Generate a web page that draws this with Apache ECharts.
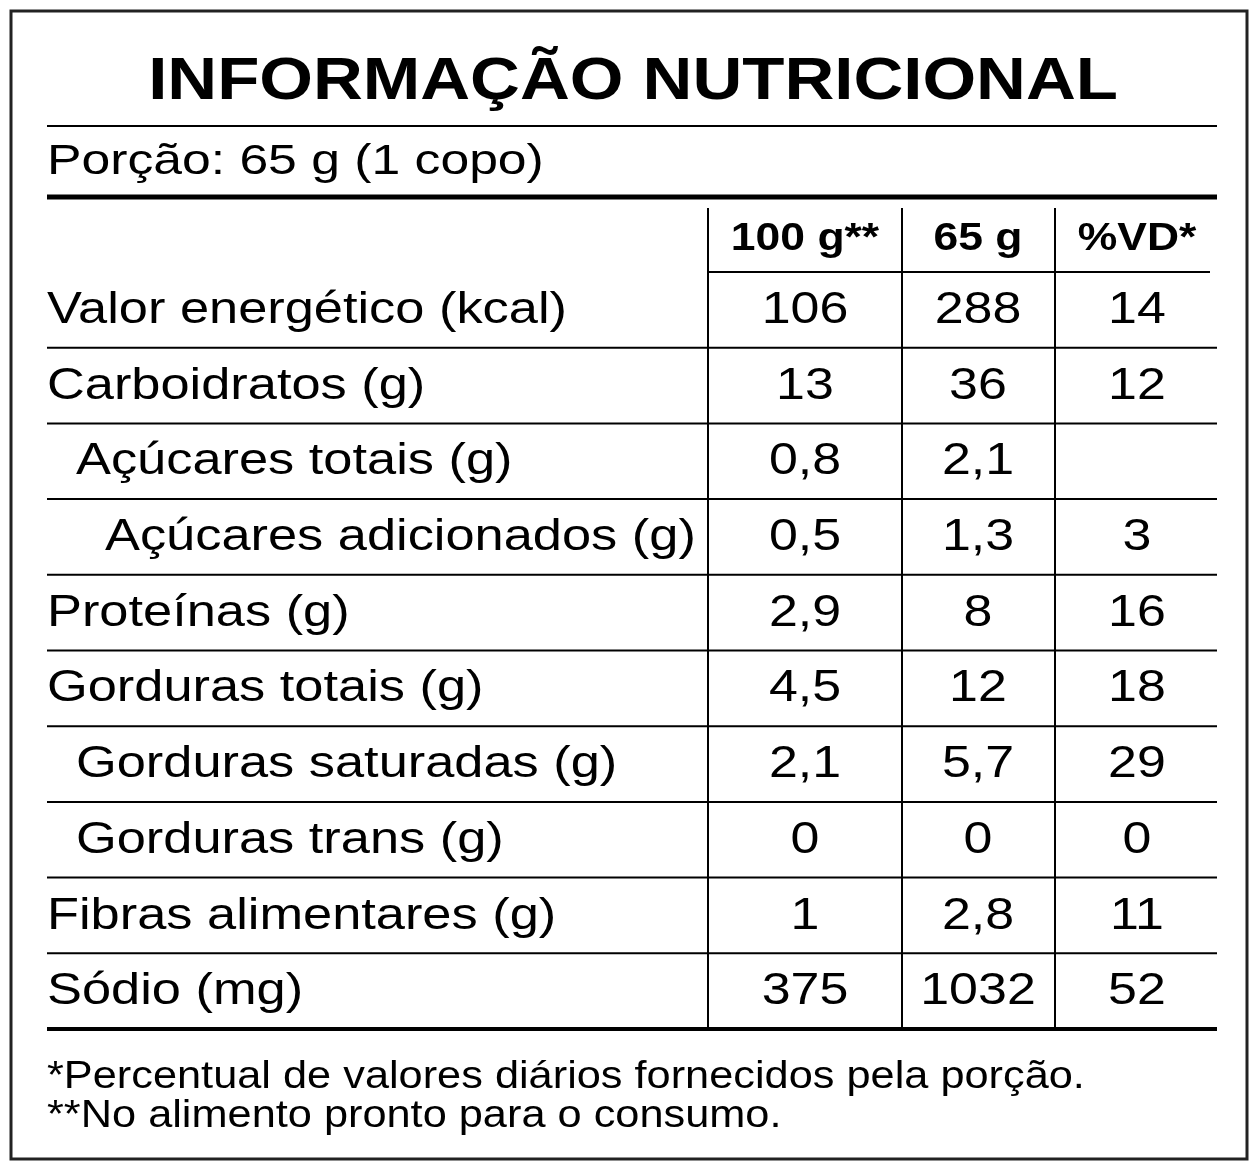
<!DOCTYPE html>
<html><head><meta charset="utf-8">
<script src="https://cdn.jsdelivr.net/npm/echarts@6/dist/echarts.min.js"></script>
<style>html,body{margin:0;background:#fff}#c{width:1260px;height:1172px}</style>
</head><body><div id="c"></div>
<script>
const title = 'INFORMAÇÃO NUTRICIONAL'
const portion = 'Porção: 65 g (1 copo)'
const headers = ['100 g**', '65 g', '%VD*']
const labels = ['Valor energético (kcal)', 'Carboidratos (g)', 'Açúcares totais (g)', 'Açúcares adicionados (g)',
  'Proteínas (g)', 'Gorduras totais (g)', 'Gorduras saturadas (g)', 'Gorduras trans (g)', 'Fibras alimentares (g)', 'Sódio (mg)']
const indent = [0, 0, 1, 2, 0, 0, 1, 1, 0, 0]
const per100 = ['106', '13', '0,8', '0,5', '2,9', '4,5', '2,1', '0', '1', '375']
const perPortion = ['288', '36', '2,1', '1,3', '8', '12', '5,7', '0', '2,8', '1032']
const vd = ['14', '12', '', '3', '16', '18', '29', '0', '11', '52']
const notes = ['*Percentual de valores diários fornecidos pela porção.', '**No alimento pronto para o consumo.']

const chart = echarts.init(document.getElementById('c'))
const font = 'Liberation Sans, Arial, sans-serif'
const g = []
const line = (x1, y1, x2, y2, w) => g.push({ type: 'line', shape: { x1, y1, x2, y2 }, style: { stroke: '#000', lineWidth: w } })
const text = (x, y, t, size, opts = {}) => g.push({ type: 'text', x, y, scaleX: opts.sx || 1, style: { text: t, font: `${opts.bold ? 'bold ' : ''}${size}px ${font}`, fill: '#000', textAlign: opts.align || 'left', textVerticalAlign: 'middle' } })

g.push({ type: 'rect', shape: { x: 11, y: 11, width: 1236, height: 1148 }, style: { fill: 'none', stroke: '#222', lineWidth: 3 } })
text(633, 82, title, 60, { bold: true, align: 'center', sx: 1.15 })
line(47, 126, 1217, 126, 2)
text(47, 162, portion, 42, { sx: 1.23 })
line(47, 197, 1217, 197, 5)

const colX = [805, 978, 1137]
const vLines = [708, 902, 1055]
vLines.forEach(x => line(x, 208, x, 1028, 2))
line(708, 272, 1210, 272, 2)
headers.forEach((h, i) => text(colX[i], 240, h, 38, { bold: true, align: 'center', sx: 1.17 }))

const rowTop = 272, rowH = 75.7
labels.forEach((l, i) => {
  const cy = rowTop + rowH * i + rowH / 2 + 1
  text(47 + indent[i] * 29, cy, l, 44, { sx: 1.19 })
  ;[per100[i], perPortion[i], vd[i]].forEach((v, j) => text(colX[j], cy, v, 44, { align: 'center', sx: 1.18 }))
  if (i > 0) line(47, rowTop + rowH * i, 1217, rowTop + rowH * i, 2)
})
line(47, 1029, 1217, 1029, 4)
notes.forEach((n, i) => text(47, 1078 + i * 39, n, 38, { sx: 1.14 }))

chart.setOption({ animation: false, graphic: g })
</script></body></html>
